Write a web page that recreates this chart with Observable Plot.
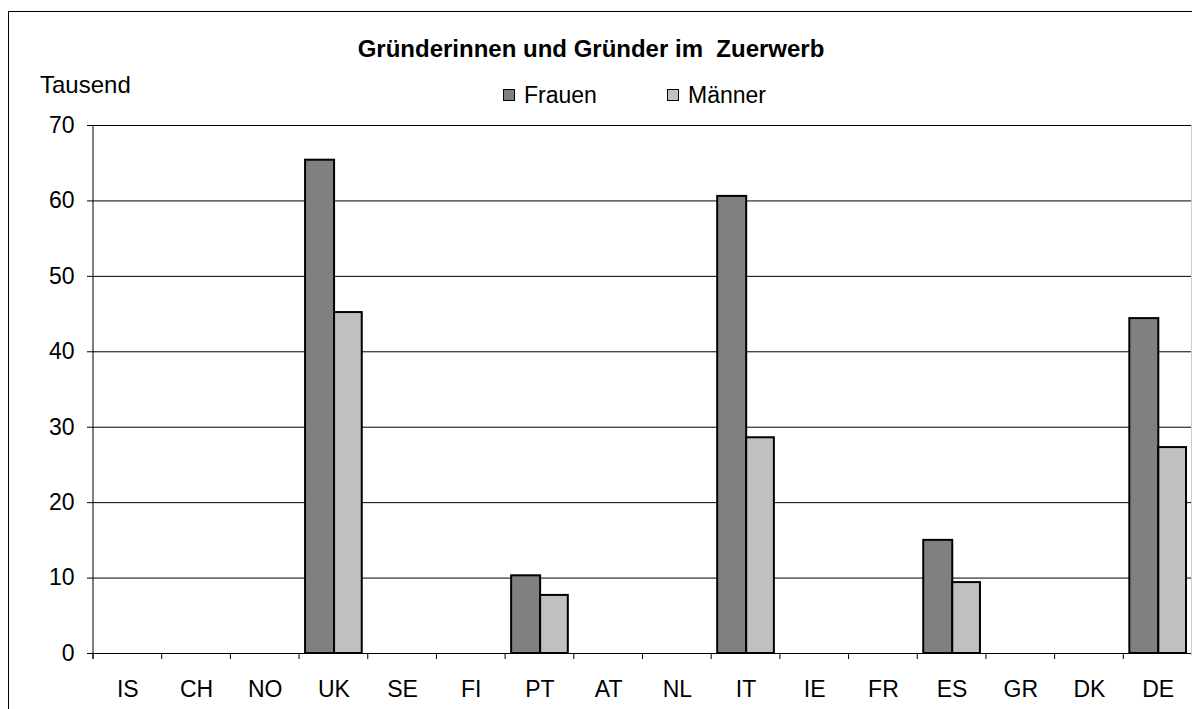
<!DOCTYPE html>
<html>
<head>
<meta charset="utf-8">
<script src="https://cdn.jsdelivr.net/npm/d3@7"></script>
<script src="https://cdn.jsdelivr.net/npm/@observablehq/plot@0.6"></script>
<style>
  html, body { margin: 0; padding: 0; background: #fff; }
  body { font-family: "Liberation Sans", Arial, sans-serif; }
  #wrap { position: relative; width: 1192px; height: 709px; overflow: hidden; background: #fff; }
  #border { position: absolute; left: 8px; top: 11px; width: 1300px; height: 800px; border: 1px solid #000; box-sizing: border-box; }
  #chart { position: absolute; left: 0; top: 0; }
  .txt { position: absolute; font-size: 23px; line-height: 23px; color: #000; white-space: pre; }
  #title { left: 0; width: 1182px; text-align: center; top: 37px; font-weight: bold; font-size: 24px; }
  #unit { left: 40px; top: 73px; font-size: 24px; }
  .sw { position: absolute; width: 12px; height: 12px; border: 1px solid #000; box-sizing: border-box; top: 89px; }
  #rightline { position: absolute; left: 1191px; top: 125px; width: 1px; height: 530px; background: #ccc; }
</style>
</head>
<body>
<div id="wrap">
  <div id="border"></div>
  <div id="chart"></div>
  <div id="rightline"></div>
  <div class="txt" id="title">Gründerinnen und Gründer im  Zuerwerb</div>
  <div class="txt" id="unit">Tausend</div>
  <div class="sw" style="left:503px;background:#808080"></div>
  <div class="txt" style="left:524px;top:84px">Frauen</div>
  <div class="sw" style="left:667px;background:#c0c0c0"></div>
  <div class="txt" style="left:688px;top:84px">Männer</div>
</div>
<script>
const countries = ["IS", "CH", "NO", "UK", "SE", "FI", "PT", "AT", "NL", "IT", "IE", "FR", "ES", "GR", "DK", "DE"];
const frauen  = [null, null, null, 65.4, null, null, 10.3, null, null, 60.6, null, null, 15.0, null, null, 44.4];
const maenner = [null, null, null, 45.2, null, null, 7.7, null, null, 28.6, null, null, 9.4, null, null, 27.3];
const yTicks = [0, 10, 20, 30, 40, 50, 60, 70];

const W = 1192, H = 709;
const mL = 93, mR = 0, mT = 125, mB = 56;
const bw = (W - mL - mR) / countries.length;
const tickLen = 6 / ((H - mT - mB) / 70); // 6px expressed in data units

const fData = countries.map((c, i) => ({country: c, value: frauen[i]})).filter(d => d.value != null);
const mData = countries.map((c, i) => ({country: c, value: maenner[i]})).filter(d => d.value != null);

const chart = Plot.plot({
  width: W,
  height: H,
  marginLeft: mL,
  marginRight: mR,
  marginTop: mT,
  marginBottom: mB,
  style: {fontFamily: "'Liberation Sans', Arial, sans-serif", fontSize: "23px", color: "#000", background: "transparent", overflow: "visible"},
  x: {type: "band", domain: countries, padding: 0, round: false, axis: null, label: null},
  y: {domain: [0, 70], axis: null, label: null},
  marks: [
    Plot.ruleY(yTicks, {stroke: "#000", strokeWidth: 1}),
    // category boundary ticks below the axis
    Plot.barY(countries, {x: d => d, y1: 0, y2: -tickLen, insetLeft: -0.5, insetRight: bw - 0.5, fill: "#000"}),
    // y axis line
    Plot.barY([countries[0]], {x: d => d, y1: -tickLen, y2: 70, insetLeft: -0.5, insetRight: bw - 0.5, fill: "#000"}),
    Plot.barY(fData, {x: "country", y: "value", fill: "#808080", stroke: "#000", strokeWidth: 2, insetLeft: 6, insetRight: bw - 35}),
    Plot.barY(mData, {x: "country", y: "value", fill: "#c0c0c0", stroke: "#000", strokeWidth: 2, insetLeft: 35, insetRight: 6}),
    Plot.axisY(yTicks, {anchor: "left", tickSize: 6, tickPadding: 13, stroke: "#000", fontSize: 23, label: null, tickFormat: d => String(d)}),
    Plot.axisX({anchor: "bottom", tickSize: 0, tickPadding: 27, fontSize: 23, label: null})
  ]
});
document.getElementById("chart").appendChild(chart);
</script>
</body>
</html>
